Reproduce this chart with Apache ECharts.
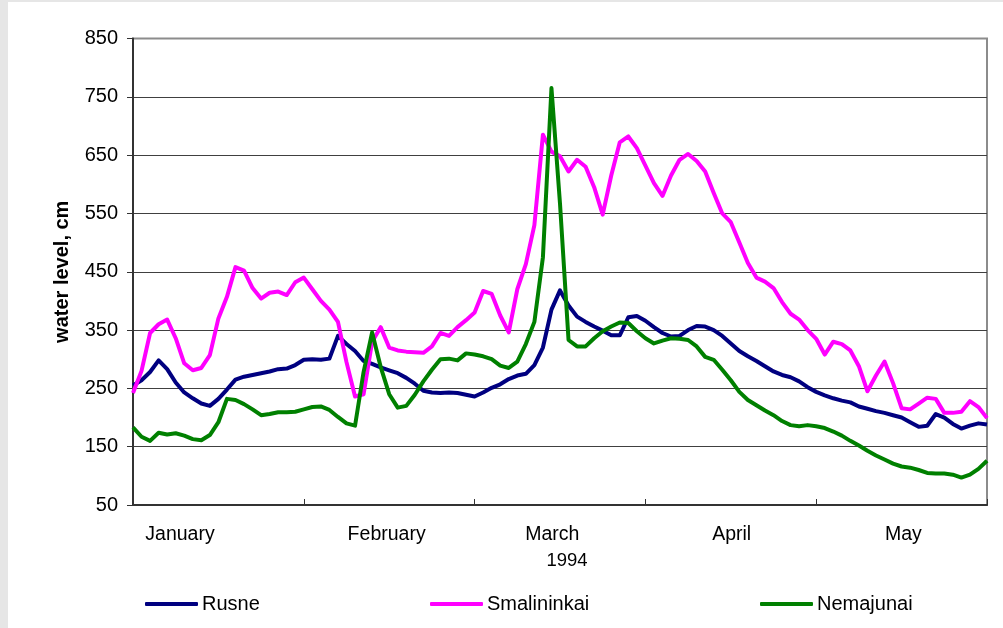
<!DOCTYPE html>
<html>
<head>
<meta charset="utf-8">
<script src="https://cdn.jsdelivr.net/npm/echarts@6/dist/echarts.min.js"></script>
<style>
html,body{margin:0;padding:0;background:#e6e6e6;}
#chart{position:absolute;left:8px;top:2px;width:995px;height:626px;background:#fff;}
</style>
</head>
<body>
<div id="chart"></div>
<script>
// labels
var months = ['January', 'February', 'March', 'April', 'May'];
var monthLabelAt = [5.5, 29.7, 49.1, 70.1, 90.2];
var dayTicks = [0, 20, 40, 60, 80, 100];
var levelTicks = [50, 150, 250, 350, 450, 550, 650, 750, 850];
var yearLabel = '1994';

// water level, cm (one reading every ~1.5 days, Jan..May)
var rusne = [255,264,278,298,283,260,243,233,224,220,
    232,248,265,270,273,276,279,283,284,290,
    299,300,299,301,340,326,314,297,292,286,
    281,276,268,258,246,243,242,243,242,239,
    236,243,251,257,266,272,275,290,320,385,
    418,392,373,364,356,349,341,341,372,374,
    366,355,345,339,340,350,357,356,350,340,
    327,314,305,297,288,279,273,269,262,252,
    244,238,233,229,226,219,215,211,208,204,
    200,192,184,186,206,200,189,181,186,190,188];
var smalininkai = [242,280,345,360,368,336,293,281,285,307,
    370,407,458,452,422,404,414,416,410,432,
    440,420,400,385,364,295,236,240,330,355,
    320,315,313,312,311,322,345,340,355,367,
    380,417,412,375,346,420,463,530,685,656,
    648,622,642,630,595,548,615,672,682,662,
    632,602,580,615,642,652,640,622,585,550,
    535,500,465,440,433,422,398,378,368,350,
    335,308,330,326,315,288,245,272,296,259,
    216,214,224,234,232,208,208,210,228,218,199];
var nemajunai = [183,167,160,174,171,173,169,163,161,170,
    192,232,230,223,214,204,206,209,209,210,
    214,218,219,213,201,190,186,278,346,287,
    240,217,220,239,262,282,300,301,298,310,
    308,305,300,289,285,296,326,364,475,765,
    567,333,322,322,336,348,356,363,362,348,
    336,327,332,336,335,333,322,304,299,282,
    264,244,230,221,212,204,194,187,185,187,
    185,182,176,169,160,152,143,135,128,121,
    116,114,110,105,104,104,102,97,102,112,126];

function pairs(arr) {
    return arr.map(function (v, i) { return [i, v]; });
}

var myChart = echarts.init(document.getElementById('chart'));
var font = 'Liberation Sans, Arial, sans-serif';

function legendAt(name, left) {
    return {
        data: [name],
        left: left,
        top: 587,
        icon: 'roundRect',
        itemWidth: 53,
        itemHeight: 4,
        itemGap: 0,
        textStyle: {fontFamily: font, fontSize: 20, color: '#000', padding: [0, 0, 0, -1]}
    };
}

var option = {
    animation: false,
    grid: {
        left: 125,
        right: 16,
        top: 36.5,
        bottom: 123,
        show: true,
        borderColor: '#8c8c8c',
        borderWidth: 2
    },
    legend: [
        legendAt('Rusne', 132),
        legendAt('Smalininkai', 417),
        legendAt('Nemajunai', 747)
    ],
    xAxis: {
        type: 'value',
        min: 0,
        max: 100,
        name: yearLabel,
        nameLocation: 'middle',
        nameGap: 46,
        nameTextStyle: {fontFamily: font, fontSize: 18.5, color: '#000', padding: [0, 0, 0, 14]},
        axisLine: {lineStyle: {color: '#333', width: 2}},
        axisTick: {inside: true, length: 6, customValues: dayTicks, lineStyle: {color: '#333'}},
        axisLabel: {
            customValues: monthLabelAt,
            margin: 20,
            fontFamily: font,
            fontSize: 19.5,
            color: '#000',
            formatter: function (v) {
                var i = monthLabelAt.indexOf(v);
                return i >= 0 ? months[i] : '';
            }
        },
        splitLine: {show: false}
    },
    yAxis: {
        type: 'value',
        min: 50,
        max: 850,
        name: 'water level, cm',
        nameLocation: 'middle',
        nameGap: 61,
        nameTextStyle: {fontFamily: font, fontSize: 20, fontWeight: 'bold', color: '#000'},
        axisLine: {show: true, lineStyle: {color: '#333', width: 2}},
        axisTick: {show: true, length: 6, customValues: levelTicks, lineStyle: {color: '#333'}},
        axisLabel: {customValues: levelTicks, margin: 15, fontFamily: font, fontSize: 20, color: '#000'},
        splitLine: {show: true, showMaxLine: false, lineStyle: {color: '#404040', width: 1}}
    },
    series: [
        {
            name: 'Rusne',
            type: 'line',
            symbol: 'none',
            itemStyle: {color: '#000080'},
            lineStyle: {color: '#000080', width: 4, join: 'round'},
            data: pairs(rusne)
        },
        {
            name: 'Smalininkai',
            type: 'line',
            symbol: 'none',
            itemStyle: {color: '#ff00ff'},
            lineStyle: {color: '#ff00ff', width: 4, join: 'round'},
            data: pairs(smalininkai)
        },
        {
            name: 'Nemajunai',
            type: 'line',
            symbol: 'none',
            itemStyle: {color: '#008000'},
            lineStyle: {color: '#008000', width: 4, join: 'round'},
            data: pairs(nemajunai)
        }
    ]
};
myChart.setOption(option);
</script>
</body>
</html>
